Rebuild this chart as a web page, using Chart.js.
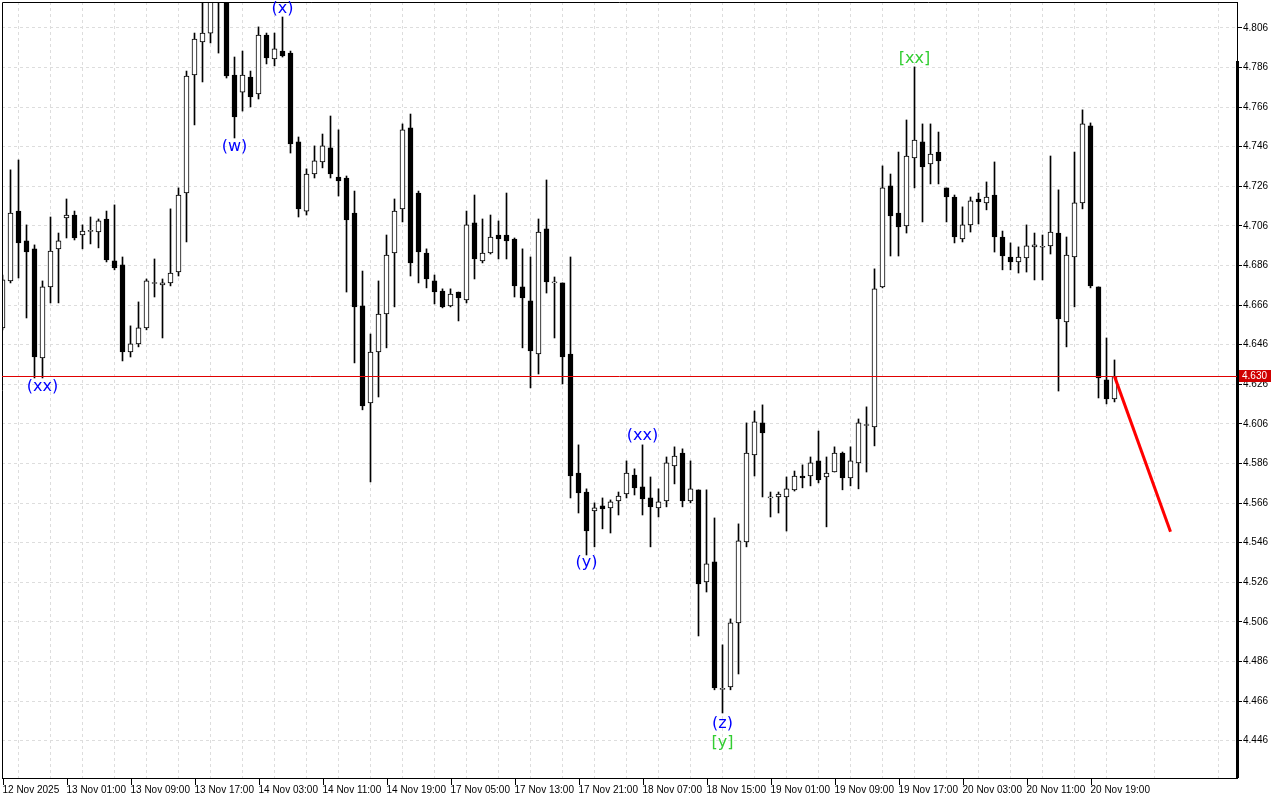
<!DOCTYPE html>
<html lang="en">
<head>
<meta charset="UTF-8">
<title>H1 candles</title>
<script src="https://cdn.jsdelivr.net/npm/chart.js"></script>
<style>
  html, body { margin: 0; padding: 0; background: #fff; }
</style>
</head>
<body>
<canvas id="chart" width="1280" height="800"></canvas>
<script>
// time labels, one every 8 hourly bars
const timeLabels = ['12 Nov 2025', '13 Nov 01:00', '13 Nov 09:00', '13 Nov 17:00', '14 Nov 03:00',
  '14 Nov 11:00', '14 Nov 19:00', '17 Nov 05:00', '17 Nov 13:00', '17 Nov 21:00', '18 Nov 07:00',
  '18 Nov 15:00', '19 Nov 01:00', '19 Nov 09:00', '19 Nov 17:00', '20 Nov 03:00', '20 Nov 11:00',
  '20 Nov 19:00'];

const openP = [
  4.6545, 4.6782, 4.7135, 4.6984, 4.6944, 4.6393, 4.6752, 4.6944, 4.7100, 4.7115,
  4.7014, 4.7032, 4.7029, 4.7095, 4.6883, 4.6863, 4.6423, 4.6464, 4.6545, 4.6769,
  4.6762, 4.6772, 4.6827, 4.7226, 4.7822, 4.7989, 4.8034, 4.8231, 4.8252, 4.7822,
  4.7736, 4.7812, 4.7726, 4.8024, 4.7903, 4.7943, 4.7933, 4.7484, 4.7135, 4.7322,
  4.7383, 4.7454, 4.7307, 4.7302, 4.7125, 4.6656, 4.6166, 4.6423, 4.6615, 4.6923,
  4.7146, 4.7555, 4.7226, 4.6923, 4.6782, 4.6731, 4.6656, 4.6726, 4.6686, 4.7075,
  4.6883, 4.6923, 4.7014, 4.7014, 4.6994, 4.6752, 4.6681, 4.6413, 4.7045, 4.6772,
  4.6772, 4.6413, 4.5812, 4.5716, 4.5620, 4.5646, 4.5636, 4.5671, 4.5706, 4.5802,
  4.5742, 4.5686, 4.5636, 4.5671, 4.5848, 4.5913, 4.5671, 4.5727, 4.5262, 4.5363,
  4.4719, 4.4732, 4.5055, 4.5464, 4.5903, 4.6065, 4.5686, 4.5691, 4.5691, 4.5727,
  4.5797, 4.5797, 4.5873, 4.5792, 4.5817, 4.5913, 4.5787, 4.5863, 4.6052, 4.6045,
  4.6752, 4.7262, 4.7125, 4.7060, 4.7403, 4.7484, 4.7373, 4.7433, 4.7252, 4.7206,
  4.6994, 4.7065, 4.7196, 4.7176, 4.7216, 4.7004, 4.6903, 4.6878, 4.6898, 4.6954,
  4.6952, 4.6959, 4.7024, 4.6575, 4.6903, 4.7176, 4.7565, 4.6752, 4.6282, 4.6186
];
const highP = [
  4.6812, 4.7343, 4.7393, 4.7065, 4.6964, 4.6782, 4.7105, 4.7024, 4.7196, 4.7135,
  4.7065, 4.7105, 4.7095, 4.7135, 4.7166, 4.6903, 4.6555, 4.6676, 4.6792, 4.6893,
  4.6792, 4.7146, 4.7252, 4.7842, 4.8034, 4.8205, 4.8262, 4.8312, 4.8272, 4.7913,
  4.7943, 4.7842, 4.8065, 4.8034, 4.8034, 4.8115, 4.7943, 4.7509, 4.7348, 4.7464,
  4.7524, 4.7615, 4.7545, 4.7312, 4.7236, 4.6832, 4.6514, 4.6782, 4.7014, 4.7196,
  4.7575, 4.7625, 4.7236, 4.6944, 4.6812, 4.6742, 4.6742, 4.6726, 4.7135, 4.7216,
  4.7095, 4.7115, 4.7085, 4.7226, 4.6999, 4.6944, 4.6903, 4.7095, 4.7292, 4.6802,
  4.6772, 4.6903, 4.5954, 4.5732, 4.5661, 4.5686, 4.5676, 4.5716, 4.5873, 4.5833,
  4.5954, 4.5792, 4.5732, 4.5893, 4.5944, 4.5934, 4.5873, 4.5727, 4.5727, 4.5585,
  4.4944, 4.5075, 4.5555, 4.6065, 4.6125, 4.6156, 4.5716, 4.5716, 4.5792, 4.5822,
  4.5853, 4.5893, 4.6024, 4.5893, 4.5944, 4.5918, 4.5944, 4.6085, 4.6146, 4.6843,
  4.7363, 4.7322, 4.7433, 4.7595, 4.7863, 4.7575, 4.7575, 4.7534, 4.7252, 4.7216,
  4.7156, 4.7206, 4.7226, 4.7282, 4.7383, 4.7034, 4.6974, 4.6954, 4.7065, 4.7024,
  4.7014, 4.7413, 4.7242, 4.7004, 4.7433, 4.7646, 4.7580, 4.6752, 4.6494, 4.6383
];
const lowP = [
  4.6535, 4.6772, 4.6797, 4.6595, 4.6292, 4.6292, 4.6671, 4.6671, 4.6999, 4.6989,
  4.6944, 4.6969, 4.6949, 4.6878, 4.6838, 4.6378, 4.6398, 4.6449, 4.6535, 4.6701,
  4.6494, 4.6757, 4.6807, 4.6979, 4.7570, 4.7787, 4.7984, 4.7933, 4.7807, 4.7504,
  4.7640, 4.7661, 4.7701, 4.7878, 4.7868, 4.7913, 4.7428, 4.7105, 4.7115, 4.7302,
  4.7353, 4.7302, 4.7211, 4.6726, 4.6368, 4.6131, 4.5767, 4.6196, 4.6444, 4.6651,
  4.7080, 4.6807, 4.6772, 4.6747, 4.6666, 4.6646, 4.6651, 4.6580, 4.6671, 4.6792,
  4.6873, 4.6918, 4.6893, 4.6893, 4.6701, 4.6444, 4.6242, 4.6312, 4.6721, 4.6494,
  4.6262, 4.5686, 4.5610, 4.5398, 4.5439, 4.5530, 4.5509, 4.5600, 4.5686, 4.5701,
  4.5600, 4.5439, 4.5590, 4.5641, 4.5757, 4.5641, 4.5661, 4.4989, 4.5211, 4.4717,
  4.4600, 4.4717, 4.4797, 4.5439, 4.5797, 4.5691, 4.5590, 4.5610, 4.5519, 4.5721,
  4.5737, 4.5747, 4.5762, 4.5540, 4.5817, 4.5727, 4.5747, 4.5732, 4.5817, 4.5949,
  4.6747, 4.6908, 4.6908, 4.7024, 4.7252, 4.7080, 4.7272, 4.7272, 4.7080, 4.6974,
  4.6979, 4.7029, 4.7070, 4.7141, 4.6928, 4.6838, 4.6838, 4.6822, 4.6827, 4.6787,
  4.6787, 4.6918, 4.6226, 4.6449, 4.6651, 4.7146, 4.6747, 4.6191, 4.6161, 4.6171
];
const closeP = [
  4.6787, 4.7125, 4.6974, 4.6928, 4.6398, 4.6752, 4.6933, 4.6984, 4.7115, 4.6999,
  4.7034, 4.7034, 4.7085, 4.6888, 4.6848, 4.6423, 4.6464, 4.6545, 4.6782, 4.6772,
  4.6772, 4.6822, 4.7216, 4.7817, 4.8004, 4.8034, 4.8231, 4.8272, 4.7817, 4.7610,
  4.7822, 4.7711, 4.8024, 4.7908, 4.7954, 4.7918, 4.7474, 4.7146, 4.7322, 4.7388,
  4.7464, 4.7322, 4.7287, 4.7090, 4.6651, 4.6151, 4.6423, 4.6615, 4.6913, 4.7135,
  4.7545, 4.6873, 4.6928, 4.6792, 4.6726, 4.6651, 4.6716, 4.6696, 4.7065, 4.6893,
  4.6923, 4.7004, 4.6994, 4.6984, 4.6757, 4.6696, 4.6428, 4.7029, 4.6777, 4.6777,
  4.6398, 4.5797, 4.5711, 4.5519, 4.5636, 4.5631, 4.5666, 4.5696, 4.5812, 4.5737,
  4.5681, 4.5641, 4.5666, 4.5863, 4.5898, 4.5671, 4.5732, 4.5252, 4.5353, 4.4727,
  4.4722, 4.5055, 4.5469, 4.5913, 4.6070, 4.6014, 4.5691, 4.5706, 4.5732, 4.5797,
  4.5787, 4.5863, 4.5777, 4.5812, 4.5913, 4.5787, 4.5873, 4.6065, 4.6055, 4.6742,
  4.7252, 4.7110, 4.7055, 4.7413, 4.7494, 4.7358, 4.7423, 4.7388, 4.7206, 4.7004,
  4.7065, 4.7186, 4.7181, 4.7206, 4.7004, 4.6908, 4.6878, 4.6903, 4.6959, 4.6964,
  4.6954, 4.7029, 4.6590, 4.6913, 4.7176, 4.7575, 4.6757, 4.6292, 4.6186, 4.6300
];

const priceTicks = [4.446, 4.466, 4.486, 4.506, 4.526, 4.546, 4.566, 4.586, 4.606, 4.626,
  4.646, 4.666, 4.686, 4.706, 4.726, 4.746, 4.766, 4.786, 4.806];
const lastPrice = 4.630;

// forecast arrow
const forecastX = [139, 146];
const forecastY = [4.630, 4.5515];

// wave marks
const waveText  = ['(xx)', '(w)', '(x)', '(y)', '(xx)', '(z)', '[y]', '[xx]'];
const waveIdx   = [5, 29, 35, 73, 80, 90, 90, 114];
const wavePrice = [4.6247, 4.7459, 4.8156, 4.5358, 4.5999, 4.4545, 4.4449, 4.7903];
const waveColor = ['#0000ff', '#0000ff', '#0000ff', '#0000ff', '#0000ff', '#0000ff', '#32cd32', '#32cd32'];

const sideBarPrice = 4.7893;

const gridIdx = [];
for (let i = 0; i <= 152; i += 4) gridIdx.push(i);

const overlay = {
  id: 'overlay',
  afterDatasetsDraw(chart) {
    const {ctx, chartArea: a, scales: {x, y}} = chart;
    ctx.save();
    // frame
    ctx.strokeStyle = '#000';
    ctx.lineWidth = 1;
    ctx.beginPath();
    ctx.moveTo(a.left + 0.5, a.bottom);
    ctx.lineTo(a.left + 0.5, a.top + 0.5);
    ctx.lineTo(a.right, a.top + 0.5);
    ctx.stroke();
    const sy = Math.round(y.getPixelForValue(sideBarPrice));
    ctx.fillStyle = '#000';
    ctx.fillRect(a.right - 1, sy, 3, a.bottom - sy);

    // time tick marks at the labels
    ctx.beginPath();
    timeLabels.forEach((t, i) => {
      const tx = Math.round(x.getPixelForValue(i * 8)) + 0.5;
      ctx.moveTo(tx, a.bottom);
      ctx.lineTo(tx, a.bottom + 7);
    });
    ctx.stroke();

    // last price line
    const py = Math.round(y.getPixelForValue(lastPrice)) + 0.5;
    ctx.strokeStyle = '#e00000';
    ctx.beginPath();
    ctx.moveTo(a.left, py);
    ctx.lineTo(a.right, py);
    ctx.stroke();
    ctx.fillStyle = '#d00000';
    ctx.fillRect(a.right + 2, py - 6.5, 32, 12);
    ctx.fillStyle = '#fff';
    ctx.font = '10px "Liberation Sans"';
    ctx.textAlign = 'left';
    ctx.textBaseline = 'middle';
    ctx.fillText(lastPrice.toFixed(3), a.right + 5, py);

    // wave labels
    ctx.font = '16px "DejaVu Sans"';
    ctx.textAlign = 'center';
    waveText.forEach((t, i) => {
      ctx.fillStyle = waveColor[i];
      ctx.fillText(t, x.getPixelForValue(waveIdx[i]), y.getPixelForValue(wavePrice[i]));
    });
    ctx.restore();
  }
};

new Chart(document.getElementById('chart'), {
  type: 'bar',
  data: {
    datasets: [
      {
        type: 'line',
        data: forecastX.map((v, i) => ({x: v, y: forecastY[i]})),
        borderColor: '#ff0000',
        borderWidth: 3,
        pointRadius: 0,
        order: 0
      },
      {
        data: openP.map((o, i) => ({x: i, y: [o, closeP[i]]})),
        backgroundColor: ctx => closeP[ctx.dataIndex] >= openP[ctx.dataIndex] ? '#ffffff' : '#000000',
        borderColor: '#000',
        borderWidth: 1,
        borderSkipped: false,
        barThickness: 5,
        minBarLength: 1,
        grouped: false,
        order: 1
      },
      {
        data: lowP.map((l, i) => ({x: i, y: [l, highP[i]]})),
        backgroundColor: '#000',
        barThickness: 1,
        grouped: false,
        order: 2
      }
    ]
  },
  options: {
    responsive: false,
    animation: false,
    devicePixelRatio: 1,
    layout: { padding: { left: 2, top: 2, right: 0, bottom: 0 } },
    plugins: { legend: { display: false }, tooltip: { enabled: false } },
    scales: {
      x: {
        type: 'linear',
        min: -0.0625,
        max: 154.3125,
        offset: false,
        afterBuildTicks: s => { s.ticks = gridIdx.map(v => ({value: v})); },
        afterFit: s => { s.height = 22; s.paddingLeft = 0; s.paddingRight = 0; },
        ticks: {
          autoSkip: false,
          maxRotation: 0,
          align: 'start',
          padding: 6,
          color: '#000',
          font: { family: 'Liberation Sans', size: 10 },
          callback: v => (v % 8 === 0 ? timeLabels[v / 8] : '')
        },
        grid: {
          color: '#dddddd',
          drawTicks: false
        },
        border: { display: true, color: '#000', dash: [3, 3] }
      },
      y: {
        type: 'linear',
        position: 'right',
        min: 4.42716,
        max: 4.81908,
        afterBuildTicks: s => { s.ticks = priceTicks.map(v => ({value: v})); },
        afterFit: s => { s.width = 43; s.paddingTop = 0; s.paddingBottom = 0; },
        ticks: {
          padding: 1,
          color: '#000',
          font: { family: 'Liberation Sans', size: 10 },
          callback: v => v.toFixed(3)
        },
        grid: {
          color: '#dddddd',
          tickColor: '#000',
          tickLength: 5,
          tickBorderDash: []
        },
        border: { display: true, color: '#000', dash: [3, 3] }
      }
    }
  },
  plugins: [overlay]
});
</script>
</body>
</html>
